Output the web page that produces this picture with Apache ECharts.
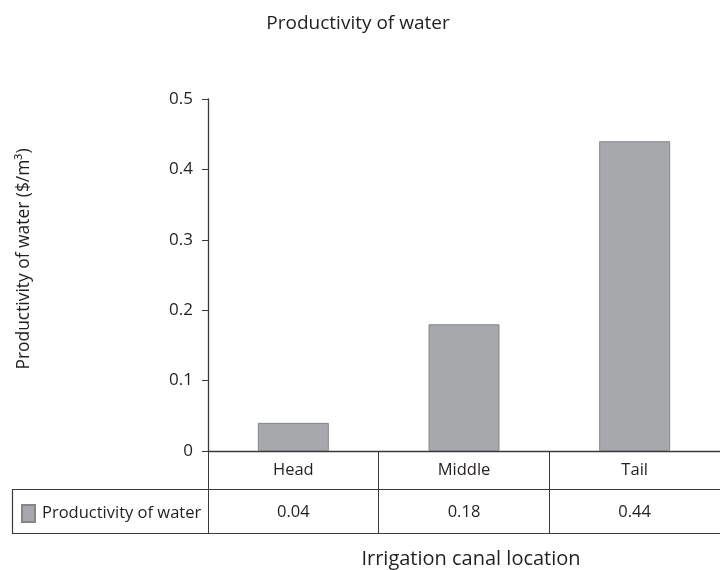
<!DOCTYPE html>
<html>
<head>
<meta charset="utf-8">
<script src="https://cdn.jsdelivr.net/npm/echarts@6/dist/echarts.min.js"></script>
<style>html,body{margin:0;padding:0;background:#fff;}#c{width:720px;height:570px;}</style>
</head>
<body>
<div id="c"></div>
<script>
var categories = ['Head', 'Middle', 'Tail'];
var seriesName = 'Productivity of water';
var values = [0.04, 0.18, 0.44];
var yTicks = [0, 0.1, 0.2, 0.3, 0.4, 0.5];

var FONT = '"Open Sans", "Noto Sans", sans-serif';
var TXT = '#231f20';
var LINE = '#3a3a3a';
var chart = echarts.init(document.getElementById('c'));
chart.setOption({
  animation: false,
  backgroundColor: '#fff',
  textStyle: { fontFamily: FONT, color: TXT },
  title: {
    text: 'Productivity of water',
    left: 353, top: 9, textAlign: 'center',
    textStyle: { fontFamily: FONT, fontSize: 19, fontWeight: 'normal', color: TXT }
  },
  legend: {
    data: [seriesName],
    left: 21, top: 504, padding: 0,
    icon: 'rect', itemWidth: 13, itemHeight: 17, itemGap: 4,
    textStyle: { fontFamily: FONT, fontSize: 16.5, color: TXT, padding: [0, 0, 0, 2] }
  },
  grid: { left: 208, right: -10, top: 99, bottom: 119 },
  xAxis: [{
    type: 'category', data: categories, position: 'bottom',
    axisLine: { show: true, lineStyle: { color: LINE, width: 1.3 } },
    axisTick: { show: true, length: 82, interval: 0, lineStyle: { color: LINE, width: 1 } },
    axisLabel: { margin: 11, fontSize: 16.5, color: TXT, fontFamily: FONT, interval: 0 }
  }, {
    type: 'category', data: categories, position: 'bottom', offset: 38,
    axisLine: { show: false }, axisTick: { show: false },
    axisLabel: { margin: 15, fontSize: 16.5, color: TXT, fontFamily: FONT, interval: 0,
      formatter: function (v, i) { return values[i].toFixed(2); } }
  }],
  yAxis: {
    type: 'value', min: 0, max: 0.5, interval: 0.1,
    name: 'Productivity of water ($/m³)', nameLocation: 'middle', nameGap: 175,
    nameTextStyle: { fontSize: 17.4, color: TXT, fontFamily: FONT, padding: [0, 0, 0, 32] },
    axisLine: { show: true, lineStyle: { color: LINE, width: 1.3 } },
    axisTick: { show: true, length: 6, lineStyle: { color: LINE } },
    splitLine: { show: false },
    axisLabel: { margin: 15, fontSize: 17, color: TXT, fontFamily: FONT,
      formatter: function (v) { var t = yTicks.find(function (x) { return Math.abs(x - v) < 1e-9; }); return t === 0 ? '0' : String(t); } }
  },
  series: [{
    name: seriesName, type: 'bar', data: values, barWidth: 71,
    itemStyle: { color: '#a7a8ab', borderColor: '#85868a', borderWidth: 1 }
  }],
  graphic: [
    { type: 'line', shape: { x1: 12, y1: 489.5, x2: 720, y2: 489.5 }, style: { stroke: LINE, lineWidth: 1 } },
    { type: 'line', shape: { x1: 12, y1: 533.5, x2: 720, y2: 533.5 }, style: { stroke: LINE, lineWidth: 1.2 } },
    { type: 'line', shape: { x1: 12.5, y1: 489, x2: 12.5, y2: 534 }, style: { stroke: LINE, lineWidth: 1.2 } },
    { type: 'text', x: 471, y: 559, style: { text: 'Irrigation canal location', fontFamily: FONT, fontSize: 20, fill: TXT, textAlign: 'center', textVerticalAlign: 'middle' } }
  ]
});
</script>
</body>
</html>
